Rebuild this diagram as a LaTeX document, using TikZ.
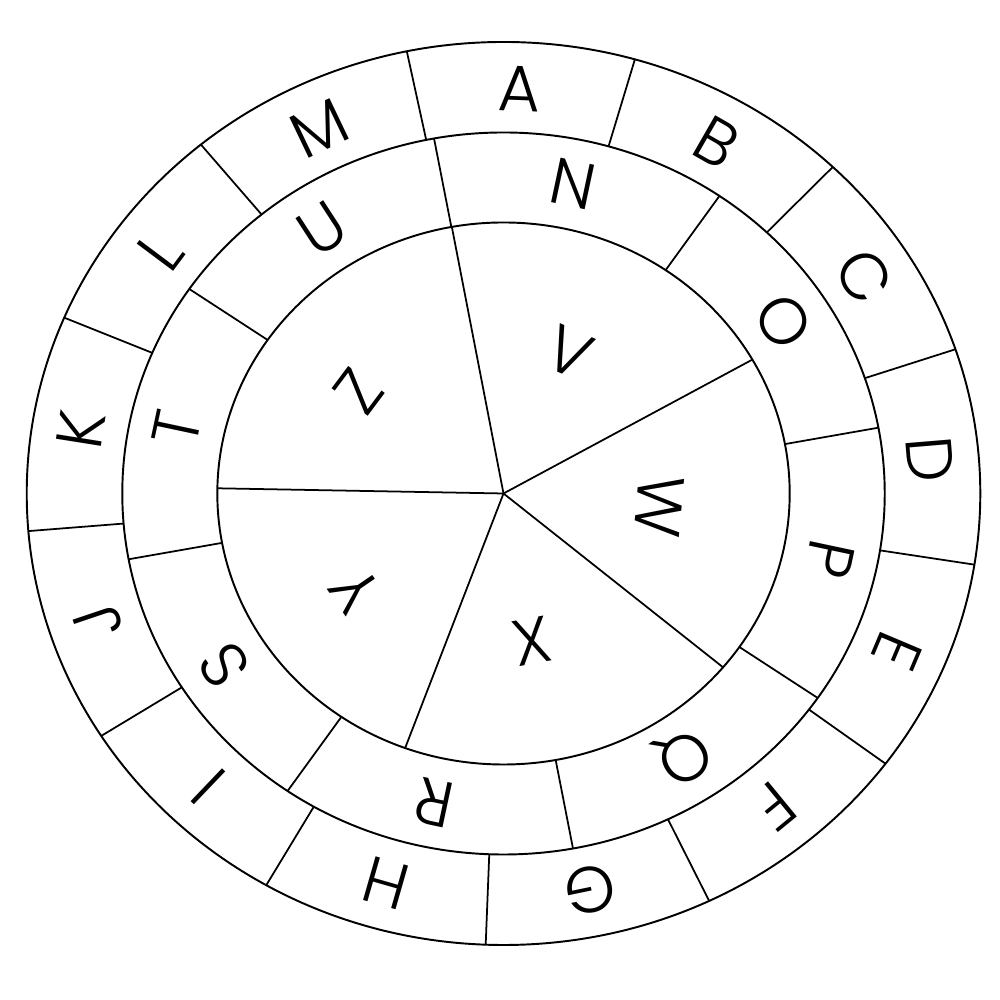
\documentclass[tikz,border=0pt]{standalone}
\usepackage{fontspec}
\setmainfont{Poppins}[UprightFont={* Light}]
\usetikzlibrary{positioning}

\begin{document}
\begin{tikzpicture}[
    ring/.style={draw=black, line width=0.55pt},
    spoke/.style={draw=black, line width=0.5pt},
    glyph/.style={inner sep=0pt, text depth=0pt, font=\fontsize{18.5}{18.5}\selectfont}]
    \useasboundingbox (0,0) rectangle (10,10);
    \begin{scope}[shift={(5.035,5.065)}, xscale=1.056]
    \coordinate (hub) at (0,0);
    \draw[ring] (hub) circle (4.515);
    \draw[ring] (hub) circle (3.61);
    \draw[ring] (hub) circle (2.71);
    % outer ring, 13 cells
    \foreach \l [count=\k from 0] in {A,...,M} {
        \pgfmathsetmacro{\a}{101.7-27.692*\k}
        \pgfmathsetmacro{\m}{\a-13.846}
        \draw[spoke] (\a:3.61) -- (\a:4.515);
        \node[glyph, rotate=\m-90] (out\l) at (\m:4.05) {\l};
    }
    % middle ring, 8 cells
    \foreach \l [count=\k from 0] in {N,...,U} {
        \pgfmathsetmacro{\a}{100.5-45*\k}
        \pgfmathsetmacro{\m}{\a-22.5}
        \draw[spoke] (\a:2.71) -- (\a:3.61);
        \node[glyph, rotate=\m-90] (mid\l) at (\m:3.16) {\l};
    }
    % inner disc, 5 cells
    \foreach \a in {100.4,29.6,-39.9,-110.1,178.9}
        \draw[spoke] (hub) -- (\a:2.71);
    \foreach \l/\a/\r in {V/66.2/1.54, W/-5.2/1.48, X/-79.6/1.50, Y/-145.5/1.70, Z/143.2/1.71}
        \node[glyph, rotate=\a-90] (in\l) at (\a:\r) {\l};
    \end{scope}
\end{tikzpicture}
\end{document}
